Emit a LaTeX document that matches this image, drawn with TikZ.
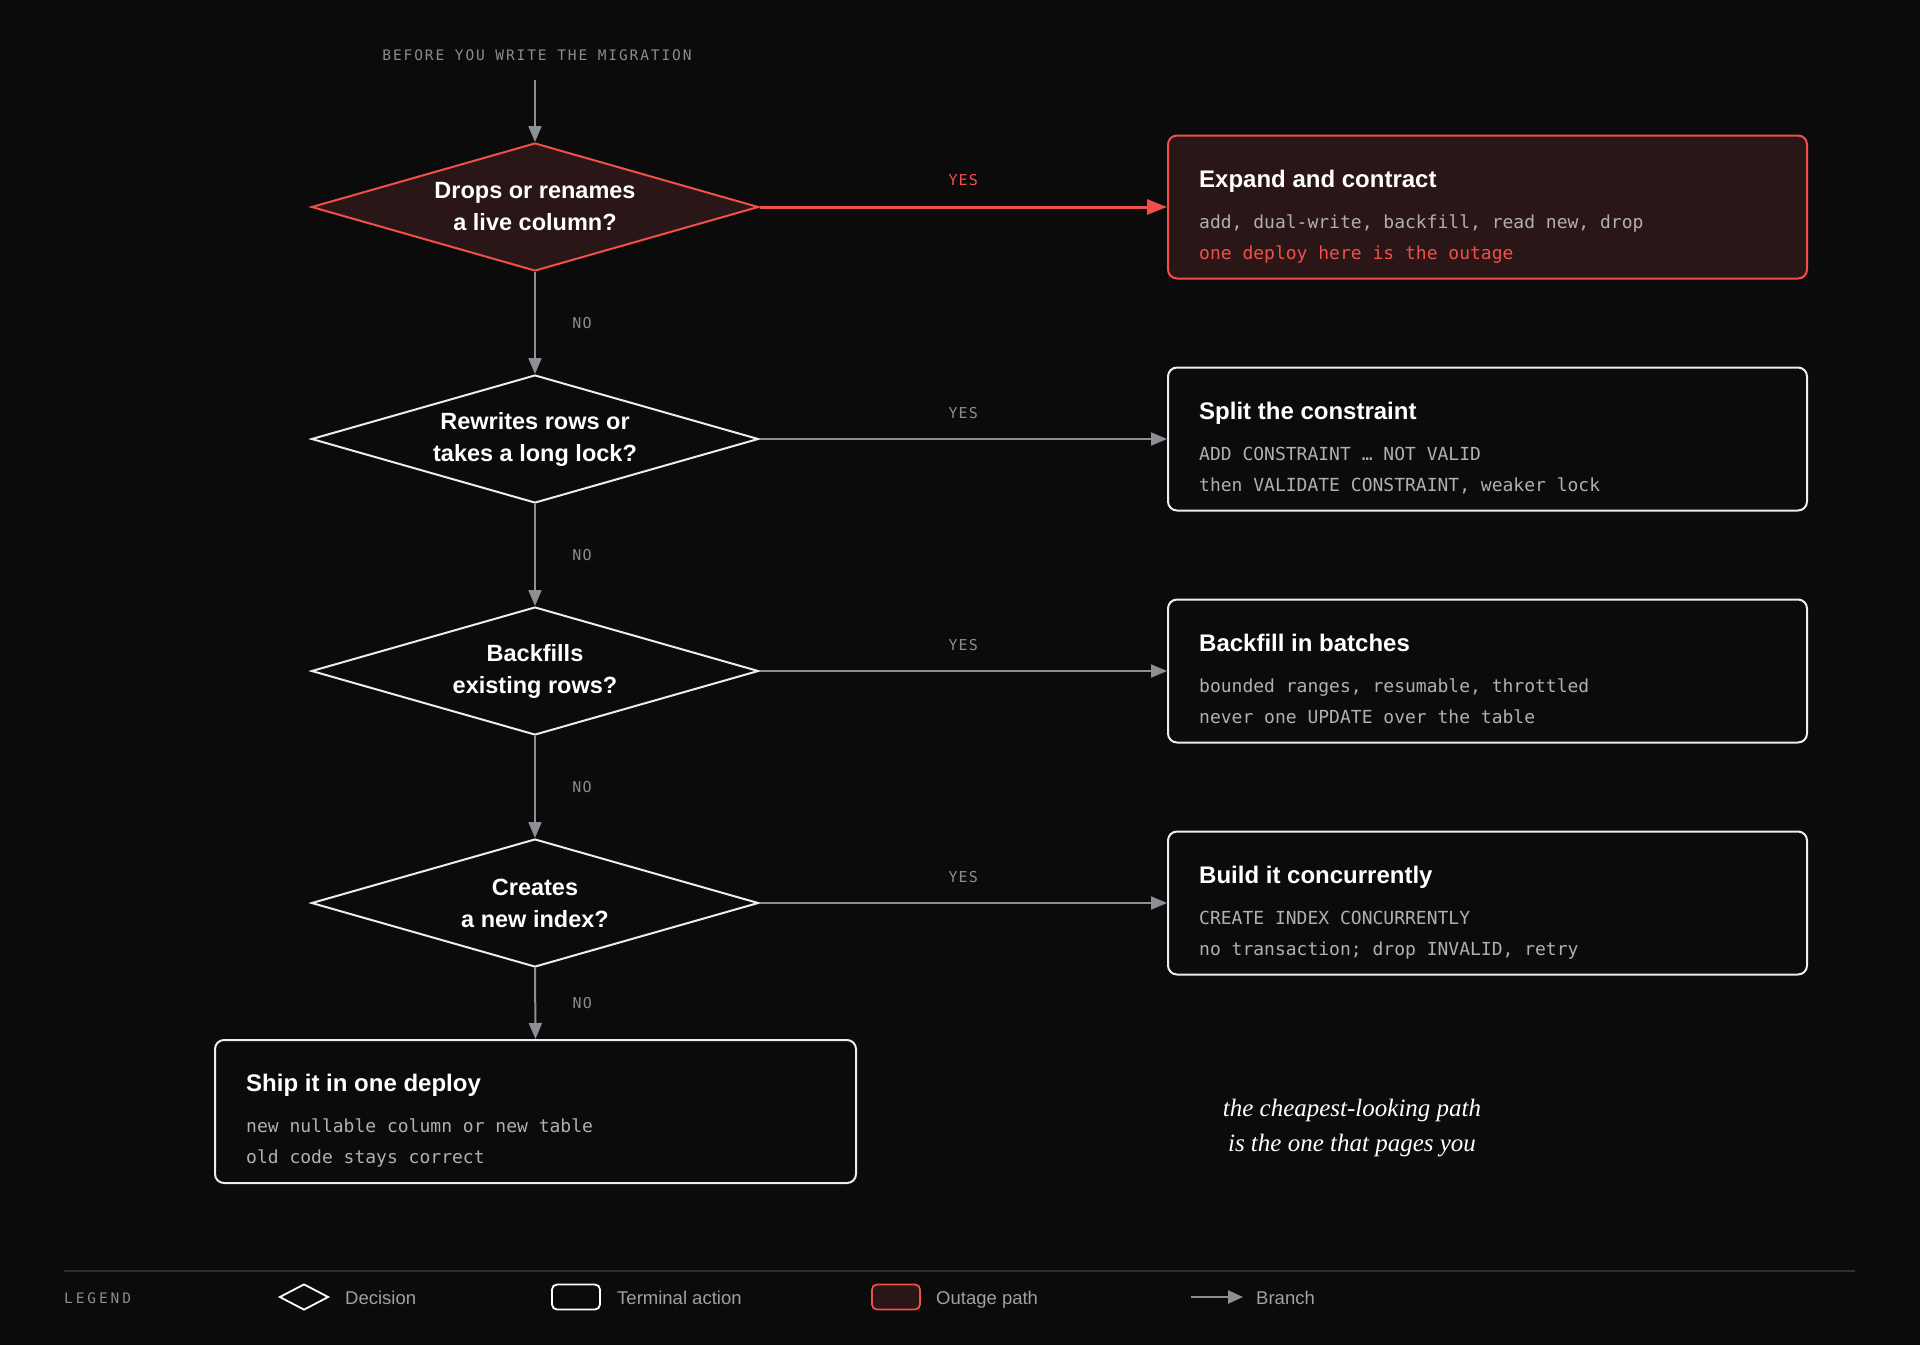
\documentclass[tikz,border=0pt]{standalone}
\usepackage{fontspec}
\setmainfont{Liberation Sans}
\newfontfamily\monof{DejaVu Sans Mono}
\newfontfamily\monols[LetterSpace=13]{DejaVu Sans Mono}
\newfontfamily\monoyes[LetterSpace=8]{DejaVu Sans Mono}
\newfontfamily\monolg[LetterSpace=20]{DejaVu Sans Mono}
\newfontfamily\serifit{Liberation Serif}
\usetikzlibrary{shapes.geometric,arrows.meta,calc}
\definecolor{bg}{HTML}{0B0B0B}
\definecolor{redl}{HTML}{F05049}
\definecolor{redfill}{HTML}{2A1617}
\definecolor{arrowgray}{HTML}{8E8E94}
\definecolor{boxwhite}{HTML}{EDEDED}
\definecolor{bodygray}{HTML}{B0B0B0}
\definecolor{labelgray}{HTML}{8C8C8C}
\definecolor{legendgray}{HTML}{A0A0A6}
\definecolor{rulegray}{HTML}{2E2E2E}
\tikzset{
  decision/.style={diamond, draw=boxwhite, line width=2pt, minimum width=447pt, minimum height=128pt, aspect=3.5, inner sep=0pt, align=center, text=white, font=\bfseries\fontsize{23.5}{32}\selectfont},
  reddecision/.style={decision, draw=redl, fill=redfill},
  termbox/.style={rectangle, rounded corners=9pt, draw=boxwhite, line width=2pt, minimum width=639pt, minimum height=143pt, inner sep=0pt},
  redbox/.style={termbox, draw=redl, fill=redfill},
  boxtitle/.style={anchor=base west, text=white, font=\bfseries\fontsize{24}{28}\selectfont, inner sep=0pt},
  boxline/.style={anchor=base west, text=bodygray, font=\monof\fontsize{18}{22}\selectfont, inner sep=0pt},
  branch/.style={draw=arrowgray, line width=2pt, -{Triangle[length=16pt,width=13pt]}},
  redbranch/.style={draw=redl, line width=3pt, -{Triangle[length=20pt,width=15pt]}},
  yeslabel/.style={font=\monoyes\fontsize{15}{18}\selectfont, text=labelgray, inner sep=0pt},
  redyes/.style={yeslabel, text=redl},
  legendtext/.style={anchor=base west, font=\fontsize{18.5}{20}\selectfont, text=legendgray, inner sep=0pt},
}
\begin{document}
\begin{tikzpicture}[x=1pt,y=-1pt]
\useasboundingbox (0,0) rectangle (1920,1345);
\fill[bg] (0,0) rectangle (1920,1345);

% title
\node[font=\monols\fontsize{14.5}{16}\selectfont, text=labelgray, inner sep=0pt] (title) at (537,55) {BEFORE YOU WRITE THE MIGRATION};
\coordinate (start) at (535,80);

% decisions
\node[reddecision] (d1) at (535,207) {Drops or renames\\a live column?};
\node[decision] (d2) at (535,439) {Rewrites rows or\\takes a long lock?};
\node[decision] (d3) at (535,671) {Backfills\\existing rows?};
\node[decision] (d4) at (535,903) {Creates\\a new index?};

% boxes
\node[redbox] (b1) at (1487.5,207) {};
\node[termbox] (b2) at (1487.5,439) {};
\node[termbox] (b3) at (1487.5,671) {};
\node[termbox] (b4) at (1487.5,903) {};
\node[termbox, minimum width=641pt] (b5) at (535.5,1111.5) {};

% box texts
\node[boxtitle] (b1t) at ([xshift=32pt,yshift=20pt]b1.west) {Expand and contract};
\node[boxline] (b1a) at ([xshift=32pt,yshift=-21pt]b1.west) {add, dual-write, backfill, read new, drop};
\node[boxline, text=redl] (b1b) at ([xshift=32pt,yshift=-52pt]b1.west) {one deploy here is the outage};

\node[boxtitle] (b2t) at ([xshift=32pt,yshift=20pt]b2.west) {Split the constraint};
\node[boxline] (b2a) at ([xshift=32pt,yshift=-21pt]b2.west) {ADD CONSTRAINT … NOT VALID};
\node[boxline] (b2b) at ([xshift=32pt,yshift=-52pt]b2.west) {then VALIDATE CONSTRAINT, weaker lock};

\node[boxtitle] (b3t) at ([xshift=32pt,yshift=20pt]b3.west) {Backfill in batches};
\node[boxline] (b3a) at ([xshift=32pt,yshift=-21pt]b3.west) {bounded ranges, resumable, throttled};
\node[boxline] (b3b) at ([xshift=32pt,yshift=-52pt]b3.west) {never one UPDATE over the table};

\node[boxtitle] (b4t) at ([xshift=32pt,yshift=20pt]b4.west) {Build it concurrently};
\node[boxline] (b4a) at ([xshift=32pt,yshift=-21pt]b4.west) {CREATE INDEX CONCURRENTLY};
\node[boxline] (b4b) at ([xshift=32pt,yshift=-52pt]b4.west) {no transaction; drop INVALID, retry};

\node[boxtitle] (b5t) at ([xshift=32pt,yshift=20pt]b5.west) {Ship it in one deploy};
\node[boxline] (b5a) at ([xshift=32pt,yshift=-21pt]b5.west) {new nullable column or new table};
\node[boxline] (b5b) at ([xshift=32pt,yshift=-52pt]b5.west) {old code stays correct};

% connectors
\draw[branch] (start) -- (d1.north);
\draw[redbranch] (d1.east) -- (b1.west);
\draw[branch] (d1.south) -- (d2.north);
\draw[branch] (d2.east) -- (b2.west);
\draw[branch] (d2.south) -- (d3.north);
\draw[branch] (d3.east) -- (b3.west);
\draw[branch] (d3.south) -- (d4.north);
\draw[branch] (d4.east) -- (b4.west);
\draw[branch] (d4.south) -- (b5.north);

% labels
\node[redyes] (y1) at ($(d1.east)!0.5!(b1.west)+(0,-27)$) {YES};
\node[yeslabel] (y2) at ($(d2.east)!0.5!(b2.west)+(0,-26)$) {YES};
\node[yeslabel] (y3) at ($(d3.east)!0.5!(b3.west)+(0,-26)$) {YES};
\node[yeslabel] (y4) at ($(d4.east)!0.5!(b4.west)+(0,-26)$) {YES};
\node[yeslabel] (n1) at ($(d1.south)!0.5!(d2.north)+(47,0)$) {NO};
\node[yeslabel] (n2) at ($(d2.south)!0.5!(d3.north)+(47,0)$) {NO};
\node[yeslabel] (n3) at ($(d3.south)!0.5!(d4.north)+(47,0)$) {NO};
\node[yeslabel] (n4) at ($(d4.south)!0.5!(b5.north)+(47,0)$) {NO};

% note
\node[font=\serifit\itshape\fontsize{25}{35.5}\selectfont, text=white, align=center, inner sep=0pt] (note) at (1352,1128) {the cheapest-looking path\\is the one that pages you};

% legend
\coordinate (rl) at (64,1271);
\coordinate (rr) at (1855,1271);
\draw[rulegray, line width=1.5pt] (rl) -- (rr);
\node[font=\monolg\fontsize{14.5}{16}\selectfont, text=labelgray, anchor=base west, inner sep=0pt] (lg) at (64,1303) {LEGEND};
\node[diamond, draw=white, line width=1.8pt, minimum width=49pt, minimum height=26pt, aspect=2, inner sep=0pt] (lgd) at (304,1297) {};
\node[legendtext] (lgdt) at (345,1304) {Decision};
\node[rectangle, rounded corners=5pt, draw=white, line width=1.8pt, minimum width=48pt, minimum height=25pt, inner sep=0pt] (lgt) at (576,1297) {};
\node[legendtext] (lgtt) at (617,1304) {Terminal action};
\node[rectangle, rounded corners=5pt, draw=redl, fill=redfill, line width=1.8pt, minimum width=48pt, minimum height=25pt, inner sep=0pt] (lgo) at (896,1297) {};
\node[legendtext] (lgot) at (936,1304) {Outage path};
\coordinate (la) at (1191,1297);
\coordinate (lb) at (1243,1297);
\draw[draw=arrowgray, line width=2.5pt, -{Triangle[length=15pt,width=13pt]}] (la) -- (lb);
\node[legendtext] (lgbt) at (1256,1304) {Branch};
\end{tikzpicture}
\end{document}
